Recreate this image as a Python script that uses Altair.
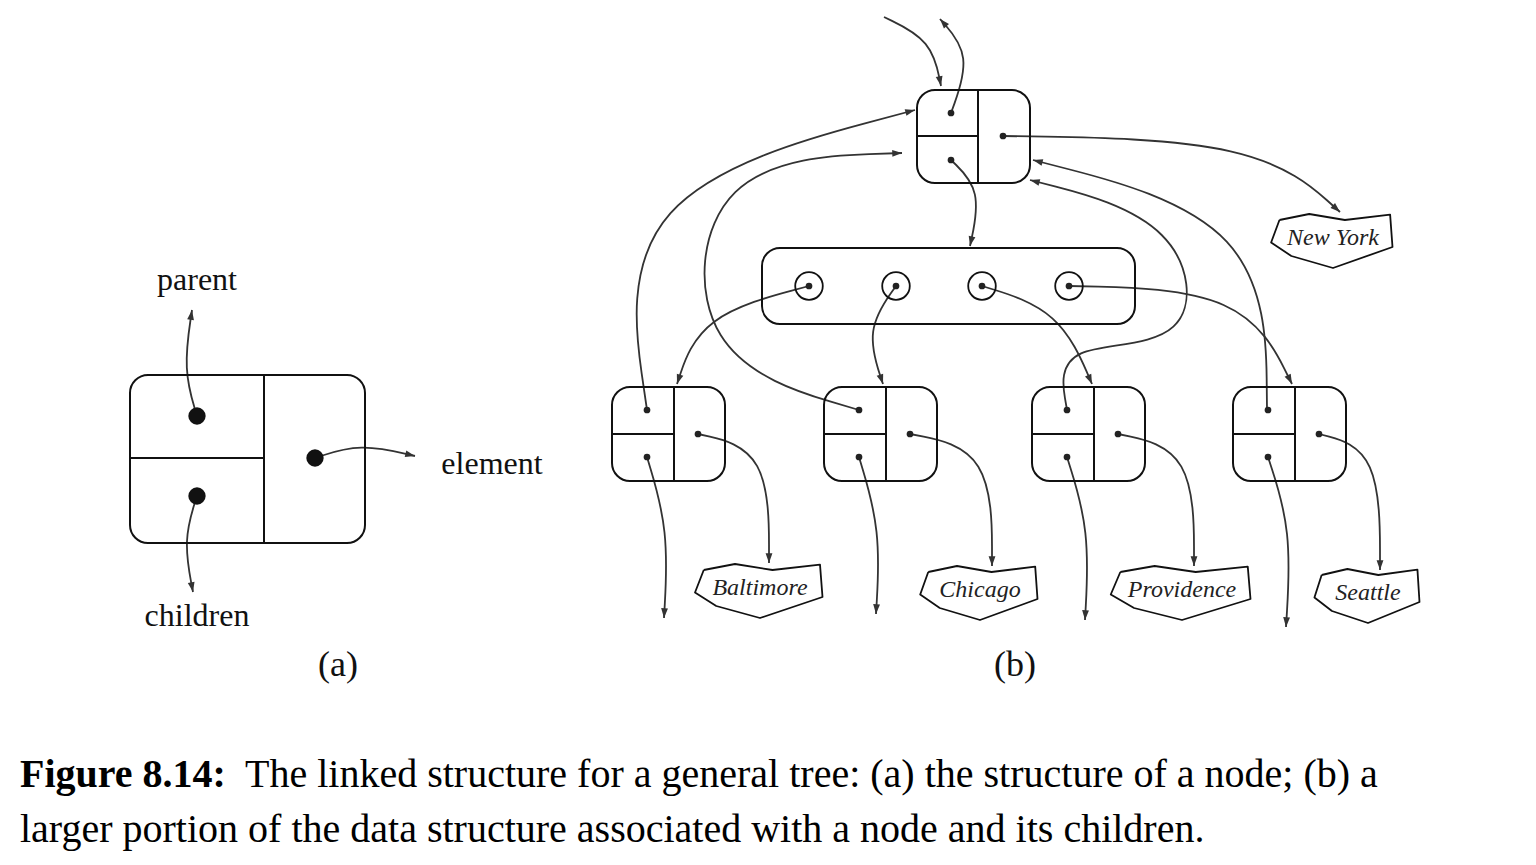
import altair as alt
import pandas as pd
import numpy as np

W, H = 1520, 849
boxes = [(130,365,375,543),(917,1030,90,183),(762,1135,248,324),
         (612,725,387,481),(824,937,387,481),(1032,1145,387,481),(1233,1346,387,481)]
segs = [(264,264,375,543),(130,264,458,458),(978,978,90,183),(917,978,136,136)]
child_left = [612, 824, 1032, 1233]
for L in child_left:
    segs += [(L+62,L+62,387,481),(L,L+62,434,434)]
small_dots = [(951,113),(951,160),(1003,136),(809,286),(896,286),(982,286),(1069,286)]
for L in child_left:
    small_dots += [(L+35,410),(L+35,457),(L+86,434)]
big_dots = [(197,416),(197,496),(315,458)]
circles = [(809,286),(896,286),(982,286),(1069,286)]

curves = [
 [(197,416),(183,370),(192,310)],
 [(197,496),(183,540),(193,592)],
 [(315,458),(360,443),(415,456)],
 [(884,17),(932,40),(941,86)],
 [(951,113),(972,55),(940,19)],
 [(951,160),(982,190),(970,246)],
 [(1003,136),(1260,140),(1340,212)],
 [(809,286),(700,315),(677,384)],
 [(896,286),(865,330),(883,384)],
 [(982,286),(1060,310),(1092,384)],
 [(1069,286),(1245,290),(1292,384)],
 [(647,410),(615,190),(915,110)],
 [(859,410),(690,360),(705,160),(902,153)],
 [(1067,410),(1055,340),(1200,350),(1185,220),(1030,180)],
 [(1267,410),(1265,220),(1033,160)],
]
for L, tx in zip(child_left, [(669,530,664,618),(881,530,876,614),(1090,530,1085,620),(1292,530,1286,627)]):
    curves.append([(L+35,457),(tx[0],tx[1]),(tx[2],tx[3])])
for L, ex, ey in zip(child_left, [769,992,1194,1380], [563,566,566,570]):
    curves.append([(L+86,434),(ex,450),(ex,ey)])

cities = ["New York","Baltimore","Chicago","Providence","Seattle"]
city_x = [1333,760,980,1182,1368]
city_y = [238,588,590,590,593]
city_w = [119,125,115,137,103]
shape = [(-0.45,-0.6),(-0.2,-0.8),(0.1,-0.6),(0.48,-0.78),(0.5,0.3),(0.0,1.0),(-0.35,0.6),(-0.52,0.15),(-0.45,-0.6)]

rows = []
heads = []
for i, c in enumerate(curves):
    for j, (x, y) in enumerate(c):
        rows.append(dict(id=f"c{i}", o=j, x=x, y=y))
    (x1, y1), (x2, y2) = c[-2], c[-1]
    ang = (np.degrees(np.arctan2(x2-x1, -(y2-y1)))) % 360
    heads.append(dict(x=x2, y=y2, a=float(ang)))
poly = []
for k, (cx, cy, w) in enumerate(zip(city_x, city_y, city_w)):
    for j, (dx, dy) in enumerate(shape):
        poly.append(dict(id=f"p{k}", o=j, x=cx+dx*w, y=cy+dy*30))

X = alt.Scale(domain=[8, 8+W], nice=False, zero=False)
Y = alt.Scale(domain=[8, 8+H], nice=False, zero=False, reverse=True)
col = "#333"
def xy(ch):
    return ch.encode(x=alt.X("x:Q", scale=X, axis=None), y=alt.Y("y:Q", scale=Y, axis=None))

bx = pd.DataFrame(boxes, columns=["x","x2","y","y2"])
l_boxes = xy(alt.Chart(bx).mark_rect(cornerRadius=18, fill="white", fillOpacity=0, stroke="#111", strokeWidth=2)).encode(x2="x2:Q", y2="y2:Q")
sg = pd.DataFrame(segs, columns=["x","x2","y","y2"])
l_segs = xy(alt.Chart(sg).mark_rule(color="#111", strokeWidth=2)).encode(x2="x2:Q", y2="y2:Q")
l_curves = xy(alt.Chart(pd.DataFrame(rows)).mark_line(interpolate="basis", color=col, strokeWidth=1.8)).encode(
    detail="id:N", order="o:Q")
l_poly = xy(alt.Chart(pd.DataFrame(poly)).mark_line(color="#111", strokeWidth=1.8, strokeJoin="round")).encode(
    detail="id:N", order="o:Q")
l_heads = xy(alt.Chart(pd.DataFrame(heads)).mark_point(shape="M0,0L-0.35,1L0.35,1Z", size=380, filled=True, color=col, opacity=1)).encode(
    angle=alt.Angle("a:Q", scale=alt.Scale(domain=[0, 360], range=[0, 360]), legend=None))
l_sd = xy(alt.Chart(pd.DataFrame(small_dots, columns=["x","y"])).mark_point(filled=True, size=45, color="#222", opacity=1))
l_bd = xy(alt.Chart(pd.DataFrame(big_dots, columns=["x","y"])).mark_point(filled=True, size=300, color="#111", opacity=1))
l_cc = xy(alt.Chart(pd.DataFrame(circles, columns=["x","y"])).mark_point(size=760, color="#111", strokeWidth=1.8, opacity=1))

ct = pd.DataFrame(dict(t=cities, x=city_x, y=city_y))
l_ct = xy(alt.Chart(ct).mark_text(font="Liberation Serif", fontStyle="italic", fontSize=24, color="#222")).encode(text="t:N")

labels = ["parent","element","children"]
lab_x = [197,492,197]
lab_y = [280,464,616]
l_lab = xy(alt.Chart(pd.DataFrame(dict(t=labels, x=lab_x, y=lab_y))).mark_text(font="Liberation Serif", fontSize=32, color="#111")).encode(text="t:N")
parts = ["(a)","(b)"]
part_x = [338,1015]
part_y = [665,665]
l_part = xy(alt.Chart(pd.DataFrame(dict(t=parts, x=part_x, y=part_y))).mark_text(font="Liberation Serif", fontSize=36, color="#111")).encode(text="t:N")

cap_t = ["The linked structure for a general tree: (a) the structure of a node; (b) a",
         "larger portion of the data structure associated with a node and its children."]
cap = pd.DataFrame(dict(t=cap_t, x=[245, 20], y=[775, 830]))
l_cap = xy(alt.Chart(cap).mark_text(font="Liberation Serif", fontSize=40, align="left", color="#000")).encode(text="t:N")
capb = pd.DataFrame(dict(t=["Figure 8.14:"], x=[20], y=[775]))
l_capb = xy(alt.Chart(capb).mark_text(font="Liberation Serif", fontSize=40, fontWeight="bold", align="left", color="#000")).encode(text="t:N")

chart = alt.layer(l_curves, l_boxes, l_segs, l_poly, l_heads, l_cc, l_sd, l_bd, l_ct, l_lab, l_part, l_cap, l_capb).properties(
    width=W, height=H, padding=0, background="white").configure_view(stroke=None)
chart.save("out.html", embed_options={"renderer": "svg", "actions": False})
